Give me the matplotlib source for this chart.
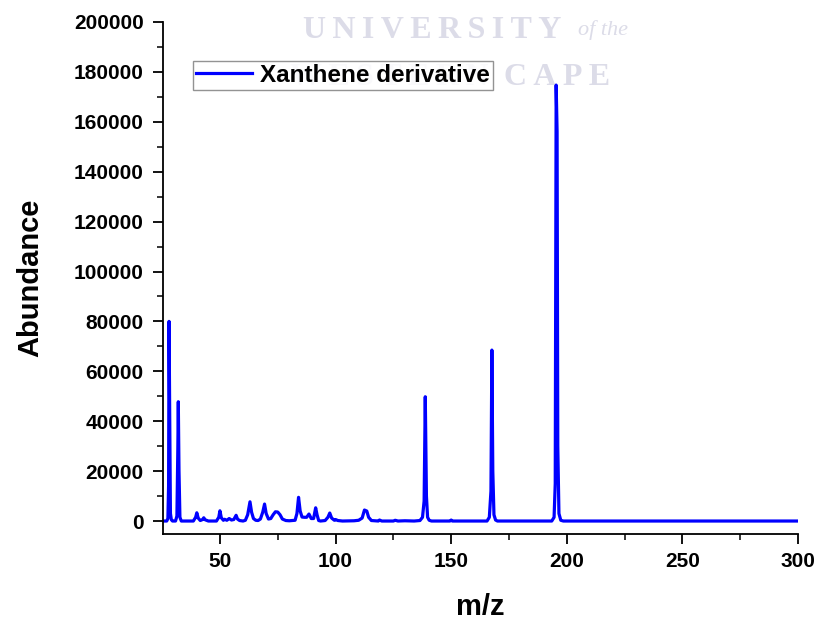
#Mass spectrum of the xanthene derivative
import matplotlib.pyplot as plt
from matplotlib.ticker import MultipleLocator

plt.rcParams['font.family'] = ['Liberation Sans', 'DejaVu Sans']

#profile points (m/z, abundance)
mz = [25.4, 27.0, 27.5, 27.8, 28.0, 28.3, 28.6, 29.0, 29.5,
      30.8, 31.4, 31.8, 32.0, 32.3, 32.7, 33.3,
      38.5, 39.5, 40.0, 40.6, 41.5, 42.5, 43.0, 43.6, 45.0,
      48.5, 49.5, 50.0, 50.6, 51.5, 52.0, 53.0, 54.0, 55.0, 56.0, 57.0, 57.6, 58.5, 60.0,
      61.0, 62.0, 63.0, 63.7, 64.5, 65.5, 66.5, 67.5, 68.5, 69.3, 70.0, 71.0, 72.0,
      73.0, 74.0, 75.0, 76.0, 77.0, 78.5, 80.0,
      82.5, 83.3, 84.0, 84.7, 85.5, 86.5, 87.5, 88.5, 89.5, 90.5, 91.4, 92.0, 92.7, 93.5,
      95.5, 96.7, 97.5, 98.3, 99.5, 100.0, 101.0, 103.0,
      108.0, 110.0, 111.5, 112.5, 113.5, 114.3, 115.5,
      118.5, 119.0, 120.0, 125.0, 125.8, 127.0, 130.0, 134.0,
      136.5, 137.6, 138.3, 138.8, 139.3, 139.8, 140.5, 141.5,
      149.5, 150.0, 150.5,
      165.5, 166.5, 167.2, 167.6, 168.0, 168.5, 169.2, 170.0,
      193.5, 194.5, 195.0, 195.4, 195.8, 196.1, 196.6, 197.4, 198.5,
      300.0]
abundance = [0, 0, 1000, 14000, 80000, 40000, 3000, 500, 0,
             0, 2000, 29000, 47800, 20000, 1500, 0,
             0, 1500, 3300, 1200, 200, 600, 1300, 500, 0,
             0, 1500, 4100, 1300, 300, 700, 300, 1000, 400, 600, 2300, 800, 200, 0,
             300, 2500, 7700, 3500, 1000, 300, 200, 800, 3500, 6800, 3000, 800, 1000,
             2500, 3700, 3600, 2500, 800, 200, 100,
             300, 3000, 9500, 4000, 1600, 1500, 1500, 2800, 1000, 1000, 5300, 2500, 200, 0,
             200, 1500, 3200, 1200, 300, 600, 200, 0,
             100, 300, 1200, 4400, 4000, 1500, 200,
             0, 400, 0, 0, 300, 0, 100, 0,
             200, 1500, 8000, 49800, 10000, 1500, 300, 0,
             0, 400, 0,
             0, 1500, 12000, 68500, 20000, 2500, 400, 0,
             0, 1500, 15000, 174700, 156000, 30000, 3000, 300, 0,
             0]

fig = plt.figure(figsize=(8.16, 6.21), dpi=100)
ax = fig.add_axes([0.1998, 0.1401, 0.7782, 0.8245])

ax.plot(mz, abundance, color='#0000ff', linewidth=2.3, label='Xanthene derivative')

ax.set_xlim(25.4, 300)
ax.set_ylim(-5200, 200000)
ax.xaxis.set_major_locator(MultipleLocator(50))
ax.xaxis.set_minor_locator(MultipleLocator(25))
ax.yaxis.set_major_locator(MultipleLocator(20000))
ax.yaxis.set_minor_locator(MultipleLocator(10000))

for s in ['top', 'right']:
    ax.spines[s].set_visible(False)
for s in ['left', 'bottom']:
    ax.spines[s].set_linewidth(1.3)

ax.tick_params(which='major', direction='out', length=7, width=1.3, labelsize=15)
ax.tick_params(axis='x', which='major', pad=6)
ax.tick_params(axis='y', which='major', pad=7)
ax.tick_params(which='minor', direction='out', length=4, width=1.1)
for t in ax.get_xticklabels() + ax.get_yticklabels():
    t.set_fontweight('bold')

ax.set_xlabel('m/z', fontsize=21, fontweight='bold', labelpad=16)
ax.set_ylabel('Abundance', fontsize=21, fontweight='bold', labelpad=21)

#faint watermark, partly under the legend
wm = dict(family=['Liberation Serif', 'DejaVu Serif'], color='#dcdce8', va='center',
          zorder=1, transform=fig.transFigure, clip_on=False)
ax.text(0.371, 0.951, 'U\u2009N\u2009I\u2009V\u2009E\u2009R\u2009S\u2009I\u2009T\u2009Y',
        fontsize=23, fontweight='bold', **wm)
ax.text(0.708, 0.951, 'of the', fontsize=16, style='italic', **wm)
ax.text(0.355, 0.876, 'W\u2009E\u2009S\u2009T\u2009E\u2009R\u2009N', fontsize=23,
        fontweight='bold', **wm)
ax.text(0.618, 0.876, 'C\u2009A\u2009P\u2009E', fontsize=23, fontweight='bold', **wm)

leg = ax.legend(loc='upper left', bbox_to_anchor=(0.047, 0.924), fontsize=17.5, frameon=True,
                fancybox=False, framealpha=0.85, edgecolor='#808080', handlelength=2.3,
                borderpad=0.12, handletextpad=0.35, borderaxespad=0)
leg.get_frame().set_linewidth(1.0)
for t in leg.get_texts():
    t.set_fontweight('bold')
leg.set_zorder(5)

fig.savefig('out.png', dpi=100)
